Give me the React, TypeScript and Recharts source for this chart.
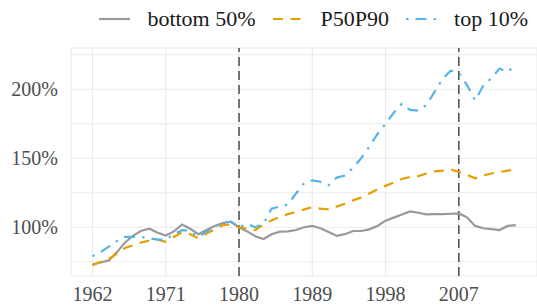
import { LineChart, Line, XAxis, YAxis, CartesianGrid, ReferenceLine } from "recharts";

const years = [
  1962, 1963, 1964, 1965, 1966, 1967, 1968, 1969, 1970, 1971,
  1972, 1973, 1974, 1975, 1976, 1977, 1978, 1979, 1980, 1981,
  1982, 1983, 1984, 1985, 1986, 1987, 1988, 1989, 1990, 1991,
  1992, 1993, 1994, 1995, 1996, 1997, 1998, 1999, 2000, 2001,
  2002, 2003, 2004, 2005, 2006, 2007, 2008, 2009, 2010, 2011,
  2012, 2013, 2014,
];

const bottom50 = [
  73, 74.5, 76, 82, 89, 94, 97.5, 99, 96, 94,
  97, 102, 99, 95, 98, 101, 103, 104, 100, 97,
  93.5, 91.5, 95, 96.8, 97, 98, 100, 101, 99.3, 96.5,
  93.8, 95, 97.3, 97.3, 98.5, 101, 104.8, 107, 109.2, 111.5,
  110.5, 109.3, 109.5, 109.6, 109.8, 110, 107.2, 101, 99.3, 98.6,
  98, 101, 101.6,
];

const p50p90 = [
  72.5, 75, 77, 81, 85, 87, 89, 90.5, 91, 89.5,
  93, 96.5, 95, 92, 95.5, 98.5, 101.5, 102, 100, 99,
  98, 102, 105, 107.5, 109.5, 111, 113, 114.5, 113.5, 113,
  115, 117, 119.5, 121.5, 124.5, 127.5, 130, 132.5, 135, 136.5,
  137, 139, 140.5, 141, 142, 140, 138, 135.5, 137.5, 139,
  140, 141, 142,
];

const top10 = [
  79, 82, 86, 90, 93, 93, 93, 92, 91, 91,
  95, 98, 97.5, 93, 97, 100, 103.5, 104, 100, 102.5,
  100, 102.5, 113.5, 115, 116.5, 124.5, 132, 134, 133, 130.5,
  136, 137.5, 143, 150, 158.5, 167.5, 175, 183, 189.5, 185,
  184.5, 188.5, 198, 207.5, 213.5, 212, 203, 192, 202.5, 208,
  215, 212.5, 218,
];

const xTicks = [1962, 1971, 1980, 1989, 1998, 2007];
const yTicks = [75, 100, 125, 150, 175, 200, 225];
const yLabeled = [100, 150, 200];
const breakYears = [1980, 2007];

const series = [
  { key: "bottom50", name: "bottom 50%", color: "#999999", dash: undefined },
  { key: "p50p90", name: "P50P90", color: "#E69F00", dash: "10 7.5" },
  { key: "top10", name: "top 10%", color: "#56B4E9", dash: "2.5 7 11 7" },
];

const data = years.map((year, i) => ({
  year,
  bottom50: bottom50[i],
  p50p90: p50p90[i],
  top10: top10[i],
}));

const font = "Liberation Serif, DejaVu Serif, Times New Roman, Times, serif";

function LegendRow() {
  return (
    <div
      style={{
        position: "absolute",
        top: 0,
        left: 0,
        width: 537,
        height: 38,
        display: "flex",
        alignItems: "center",
        justifyContent: "flex-end",
        paddingRight: 9,
        boxSizing: "border-box",
        fontFamily: font,
        fontSize: 22,
        color: "#1a1a1a",
      }}
    >
      {series.map((s, i) => (
        <div key={s.key} style={{ display: "flex", alignItems: "center", marginLeft: i === 0 ? 0 : 17 }}>
          <svg width={31} height={10}>
            <line x1={0} y1={5} x2={31} y2={5} stroke={s.color} strokeWidth={2.2} strokeDasharray={s.dash} />
          </svg>
          <span style={{ marginLeft: 17, whiteSpace: "nowrap" }}>{s.name}</span>
        </div>
      ))}
    </div>
  );
}

export default function App() {
  return (
    <div style={{ position: "relative", width: 537, height: 305, background: "#fff", fontFamily: font }}>
      <style>{`body{margin:0}`}</style>
      <LegendRow />
      <LineChart
        width={537}
        height={305}
        data={data}
        margin={{ top: 48, right: 0, left: 0, bottom: 0 }}
        style={{ fontFamily: font }}
      >
        <CartesianGrid stroke="#EBEBEB" strokeWidth={1.1} />
        <XAxis
          dataKey="year"
          type="number"
          domain={[1959.36, 2016.6]}
          ticks={xTicks}
          axisLine={false}
          tickLine={false}
          tickSize={6}
          tickMargin={5}
          height={29}
          tick={{ fill: "#4D4D4D", fontSize: 20, fontFamily: font }}
        />
        <YAxis
          type="number"
          domain={[64.7, 229.9]}
          ticks={yTicks}
          width={71}
          axisLine={false}
          tickLine={false}
          tickSize={6}
          tickMargin={7}
          tickFormatter={(v: number) => (yLabeled.includes(v) ? `${v}%` : "")}
          tick={{ fill: "#4D4D4D", fontSize: 20, fontFamily: font }}
        />
        {breakYears.map((y) => (
          <ReferenceLine key={y} x={y} stroke="#222" strokeWidth={1.2} strokeDasharray="9 5" />
        ))}
        {series.map((s) => (
          <Line
            key={s.key}
            type="linear"
            dataKey={s.key}
            name={s.name}
            stroke={s.color}
            strokeWidth={2.2}
            strokeDasharray={s.dash}
            dot={false}
            isAnimationActive={false}
          />
        ))}
      </LineChart>
    </div>
  );
}
